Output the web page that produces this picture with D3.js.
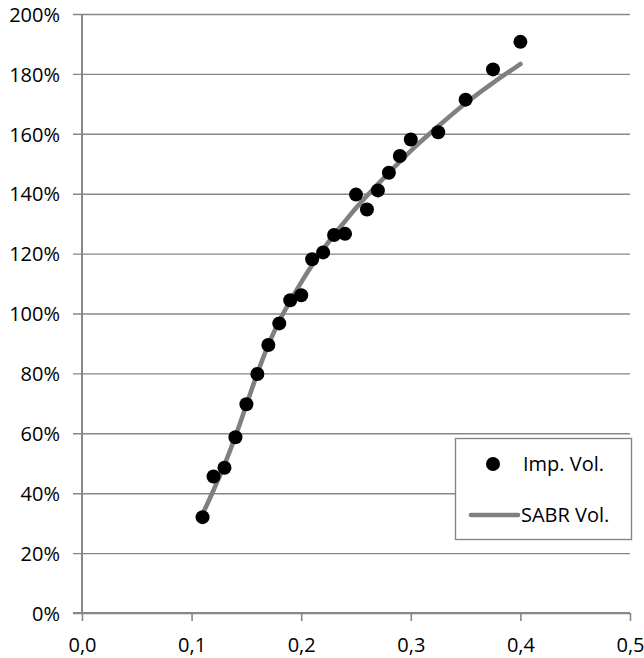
<!DOCTYPE html>
<html>
<head>
<meta charset="utf-8">
<script src="https://cdn.jsdelivr.net/npm/d3@7"></script>
<style>
  html, body { margin: 0; padding: 0; background: #fff; }
  svg { display: block; }
  text { font-family: "Open Sans", "Noto Sans", sans-serif; fill: #000; }
</style>
</head>
<body>
<svg id="chart" width="644" height="658"></svg>
<script>
// ---- data ----
const strikes = [0.11, 0.12, 0.13, 0.14, 0.15, 0.16, 0.17, 0.18, 0.19, 0.20, 0.21, 0.22, 0.23, 0.24, 0.25, 0.26, 0.27, 0.28, 0.29, 0.30, 0.325, 0.35, 0.375, 0.40];
const impVol = [32.0, 45.6, 48.5, 58.7, 69.7, 79.8, 89.5, 96.7, 104.4, 106.1, 118.1, 120.4, 126.2, 126.6, 139.7, 134.7, 141.1, 147.0, 152.6, 158.1, 160.5, 171.4, 181.5, 190.7];
const sabrVol = [33.0, 41.0, 49.5, 59.0, 69.5, 80.0, 89.5, 97.5, 104.2, 110.4, 116.2, 121.4, 126.3, 130.8, 135.2, 139.3, 143.2, 147.0, 150.7, 154.3, 162.5, 170.2, 177.0, 183.3];
const xTicks = [0.0, 0.1, 0.2, 0.3, 0.4, 0.5];
const yTicks = [0, 20, 40, 60, 80, 100, 120, 140, 160, 180, 200];
const seriesNames = ["Imp. Vol.", "SABR Vol."];

// ---- layout ----
const svg = d3.select("#chart");
const mLeft = 82, mRight = 630, mTop = 14, mBottom = 613;
const gridColor = "#878787";

const x = d3.scaleLinear().domain([0, 0.5]).range([mLeft, mRight]);
const y = d3.scaleLinear().domain([0, 200]).range([mBottom, mTop]);

// y gridlines + labels
const yAxis = d3.axisLeft(y)
  .tickValues(yTicks)
  .tickSize(-(mRight - mLeft))
  .tickPadding(0)
  .tickFormat(d => d + "%");
const gy = svg.append("g").attr("transform", `translate(${mLeft},0)`).call(yAxis);
gy.select(".domain").remove();
gy.selectAll(".tick line")
  .attr("x1", -9)
  .attr("stroke", gridColor)
  .attr("stroke-width", 1.4);
gy.selectAll(".tick text")
  .attr("x", -22)
  .attr("dy", "0.36em")
  .attr("font-size", 20)
  .attr("font-family", "'Open Sans', sans-serif")
  .attr("fill", "#000");

// x axis
const xAxis = d3.axisBottom(x)
  .tickValues(xTicks)
  .tickSize(8)
  .tickPadding(0)
  .tickFormat(d => d3.format(".1f")(d).replace(".", ","));
const gx = svg.append("g").attr("transform", `translate(0,${mBottom})`).call(xAxis);
gx.select(".domain").attr("stroke", gridColor).attr("stroke-width", 2)
  .attr("d", `M${mLeft - 9},0H${mRight}`);
gx.selectAll(".tick line").attr("stroke", gridColor).attr("stroke-width", 1.6);
gx.selectAll(".tick text")
  .attr("y", 39)
  .attr("dy", 0)
  .attr("font-size", 20)
  .attr("font-family", "'Open Sans', sans-serif")
  .attr("fill", "#000");

// y axis line
svg.append("line")
  .attr("x1", mLeft).attr("x2", mLeft)
  .attr("y1", y(200)).attr("y2", mBottom + 1)
  .attr("stroke", gridColor).attr("stroke-width", 2);

// SABR line
const sabrData = strikes.map((k, i) => [k, sabrVol[i]]);
const line = d3.line().x(d => x(d[0])).y(d => y(d[1])).curve(d3.curveMonotoneX);
svg.append("path")
  .datum(sabrData)
  .attr("d", line)
  .attr("fill", "none")
  .attr("stroke", "#808080")
  .attr("stroke-width", 4.6)
  .attr("stroke-linecap", "round")
  .attr("stroke-linejoin", "round");

// implied vol dots
svg.append("g").selectAll("circle")
  .data(strikes.map((k, i) => [k, impVol[i]]))
  .join("circle")
  .attr("cx", d => x(d[0]))
  .attr("cy", d => y(d[1]))
  .attr("r", 7)
  .attr("fill", "#000");

// legend
const lg = svg.append("g");
lg.append("rect")
  .attr("x", 455.5).attr("y", 438.5)
  .attr("width", 176).attr("height", 101)
  .attr("fill", "#fff")
  .attr("stroke", gridColor).attr("stroke-width", 1.4);
lg.append("circle").attr("cx", 493).attr("cy", 464).attr("r", 7).attr("fill", "#000");
lg.append("text").attr("x", 523).attr("y", 471).attr("font-size", 20).text(seriesNames[0]);
lg.append("line")
  .attr("x1", 471).attr("x2", 518).attr("y1", 515).attr("y2", 515)
  .attr("stroke", "#808080").attr("stroke-width", 4.6).attr("stroke-linecap", "round");
lg.append("text").attr("x", 521).attr("y", 522).attr("font-size", 20).text(seriesNames[1]);
</script>
</body>
</html>
